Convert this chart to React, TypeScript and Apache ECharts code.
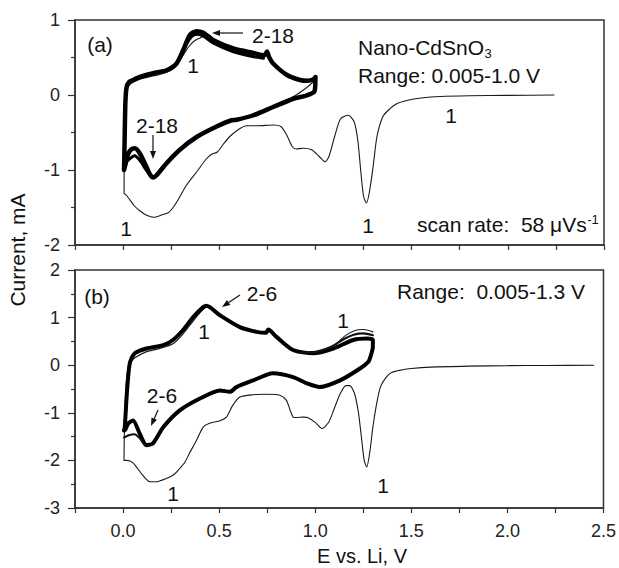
import React, { useEffect, useRef } from "react";
import * as echarts from "echarts";

// ---------------- data (E in V vs Li, I in mA) ----------------
const xTickLabels = ["0.0", "0.5", "1.0", "1.5", "2.0", "2.5"];
const yTicksA = [-2, -1, 0, 1];
const yTicksB = [-3, -2, -1, 0, 1, 2];

// Panel (a): first cycle (thin), from OCV down to 0.005 V, then back to 1.0 V
const cycle1A: number[][] = [
  [2.24, 0.0], [2.0, -0.005], [1.8, -0.01], [1.65, -0.02], [1.55, -0.04], [1.48, -0.07],
  [1.42, -0.12], [1.38, -0.2], [1.35, -0.29], [1.32, -0.55], [1.3, -0.95], [1.28, -1.3],
  [1.265, -1.44], [1.25, -1.35], [1.235, -1.0], [1.22, -0.6], [1.2, -0.35], [1.17, -0.27],
  [1.13, -0.32], [1.1, -0.55], [1.07, -0.82], [1.05, -0.89], [1.02, -0.82], [0.98, -0.73],
  [0.935, -0.71], [0.9, -0.72], [0.88, -0.69], [0.85, -0.53], [0.82, -0.42], [0.78, -0.4],
  [0.7, -0.41], [0.64, -0.41], [0.6, -0.46], [0.556, -0.55], [0.52, -0.66], [0.49, -0.76],
  [0.46, -0.79], [0.43, -0.86], [0.39, -1.0], [0.33, -1.2], [0.29, -1.38], [0.26, -1.5],
  [0.235, -1.57], [0.2, -1.6], [0.16, -1.63], [0.12, -1.6], [0.085, -1.54], [0.056, -1.47],
  [0.03, -1.38], [0.015, -1.33], [0.005, -1.31],
  [0.006, -0.9], [0.008, -0.4], [0.012, -0.05], [0.02, 0.08], [0.035, 0.14], [0.06, 0.18],
  [0.1, 0.22], [0.15, 0.25], [0.2, 0.28], [0.25, 0.33], [0.28, 0.4], [0.31, 0.52],
  [0.34, 0.64], [0.37, 0.72], [0.4, 0.76], [0.43, 0.8], [0.45, 0.8], [0.47, 0.73],
  [0.573, 0.62], [0.677, 0.56], [0.74, 0.53], [0.75, 0.56], [0.76, 0.5], [0.78, 0.42],
  [0.85, 0.27], [0.92, 0.2], [0.97, 0.2], [1.0, 0.2], [0.95, 0.09], [0.9, 0.0], [0.88, -0.03],
];

// Panel (a): cycles 2-18 (thick band)
const band2to18A: number[][] = [
  [0.005, -1.0], [0.008, -0.6], [0.012, -0.1], [0.018, 0.1], [0.03, 0.17], [0.052, 0.2],
  [0.087, 0.24], [0.157, 0.29], [0.226, 0.33], [0.278, 0.42], [0.3125, 0.6], [0.347, 0.8],
  [0.382, 0.85], [0.417, 0.83], [0.47, 0.73], [0.573, 0.62], [0.677, 0.56], [0.735, 0.53],
  [0.748, 0.58], [0.76, 0.5], [0.78, 0.42], [0.85, 0.27], [0.92, 0.2], [0.96, 0.19],
  [0.99, 0.21], [1.0, 0.24],
  [0.995, 0.05], [0.95, -0.01], [0.885, -0.05], [0.78, -0.16], [0.677, -0.27], [0.59, -0.33],
  [0.56, -0.34], [0.486, -0.42], [0.382, -0.56], [0.295, -0.73], [0.226, -0.91], [0.174, -1.07],
  [0.157, -1.1], [0.14, -1.06], [0.122, -0.96], [0.087, -0.78], [0.061, -0.71], [0.04, -0.73],
  [0.026, -0.79], [0.009, -0.96], [0.005, -1.0],
];
// Panel (a): spread of the 2-18 band (inner cycles) near the anodic peak and the low-potential hump
const band2to18PeakA: number[][] = [
  [0.3, 0.5], [0.33, 0.68], [0.36, 0.79], [0.39, 0.81], [0.42, 0.78], [0.47, 0.69],
  [0.57, 0.58], [0.68, 0.51], [0.73, 0.49],
];
const band2to18LowA: number[][] = [
  [0.005, -0.92], [0.03, -0.86], [0.06, -0.81], [0.09, -0.88], [0.12, -1.0], [0.15, -1.1],
];

// Panel (b): first cycle (thin), OCV down to 0.005 V and back to 1.3 V
const cycle1B: number[][] = [
  [2.45, 0.0], [2.2, -0.005], [2.0, -0.01], [1.8, -0.02], [1.6, -0.04], [1.5, -0.07],
  [1.45, -0.1], [1.4, -0.15], [1.37, -0.25], [1.34, -0.45], [1.32, -0.8], [1.3, -1.3],
  [1.285, -1.8], [1.268, -2.14], [1.255, -2.0], [1.24, -1.5], [1.225, -1.0], [1.205, -0.6],
  [1.18, -0.43], [1.16, -0.43], [1.13, -0.6], [1.1, -0.9], [1.07, -1.2], [1.035, -1.33],
  [1.0, -1.2], [0.96, -1.1], [0.94, -1.09], [0.9, -1.1], [0.885, -1.09], [0.87, -0.95],
  [0.85, -0.74], [0.816, -0.63], [0.75, -0.61], [0.677, -0.62], [0.608, -0.67], [0.57, -0.85],
  [0.538, -1.09], [0.5, -1.17], [0.45, -1.22], [0.417, -1.3], [0.382, -1.58], [0.347, -1.84],
  [0.32, -2.05], [0.295, -2.17], [0.27, -2.28], [0.243, -2.35], [0.2, -2.42], [0.174, -2.45],
  [0.139, -2.45], [0.1, -2.3], [0.052, -2.05], [0.02, -2.0], [0.005, -2.0],
  [0.006, -1.6], [0.01, -0.9], [0.018, -0.3], [0.03, 0.0], [0.06, 0.15], [0.12, 0.28],
  [0.2, 0.36], [0.26, 0.45], [0.3, 0.6], [0.35, 0.85], [0.4, 1.1], [0.434, 1.22],
  [0.504, 1.05], [0.608, 0.8], [0.695, 0.7], [0.747, 0.68], [0.755, 0.75], [0.8, 0.59],
  [0.885, 0.32], [0.99, 0.25], [1.094, 0.4], [1.15, 0.6], [1.2, 0.72], [1.25, 0.75], [1.3, 0.7],
];

// Panel (b): cycles 2-6 (thick band)
const band2to6B: number[][] = [
  [0.005, -1.37], [0.009, -1.3], [0.021, -0.53], [0.035, 0.04], [0.061, 0.25], [0.122, 0.35],
  [0.21, 0.42], [0.26, 0.53], [0.3125, 0.74], [0.365, 1.01], [0.417, 1.22], [0.434, 1.25],
  [0.504, 1.05], [0.608, 0.8], [0.695, 0.7], [0.745, 0.68], [0.755, 0.75], [0.8, 0.59],
  [0.885, 0.32], [0.99, 0.25], [1.094, 0.35], [1.198, 0.53], [1.268, 0.56], [1.3, 0.53],
  [1.3, 0.39], [1.285, 0.15], [1.276, 0.07], [1.233, -0.07], [1.129, -0.32], [1.024, -0.46],
  [0.955, -0.38], [0.885, -0.25], [0.78, -0.17], [0.677, -0.32], [0.59, -0.46], [0.556, -0.56],
  [0.504, -0.53], [0.4, -0.7], [0.295, -0.95], [0.21, -1.3], [0.156, -1.64], [0.122, -1.68],
  [0.087, -1.44], [0.052, -1.16], [0.026, -1.23], [0.009, -1.37], [0.005, -1.37],
];
// Panel (b): spread of the 2-6 band at high potential and at the low-potential hump
const band2to6HighB: number[][] = [
  [0.92, 0.27], [1.0, 0.28], [1.08, 0.38], [1.15, 0.55], [1.2, 0.64], [1.25, 0.67], [1.3, 0.63],
];
const band2to6LowB: number[][] = [
  [0.005, -1.52], [0.03, -1.47], [0.06, -1.45], [0.09, -1.55], [0.12, -1.7], [0.15, -1.66],
];

// ---------------- layout / style ----------------
const FONT = "Liberation Sans, Arial, sans-serif";
const AX = "#333";

function measure(text: string, size: number): number {
  const c = document.createElement("canvas").getContext("2d");
  if (!c) return text.length * size * 0.55;
  c.font = `${size}px ${FONT}`;
  return c.measureText(text).width;
}

function label(text: string, x: number, y: number, size = 21, align = "center") {
  return {
    type: "text",
    x,
    y,
    z: 100,
    style: { text, font: `${size}px ${FONT}`, fill: "#111", textAlign: align, textVerticalAlign: "middle" },
  };
}

function arrow(x1: number, y1: number, x2: number, y2: number) {
  const dx = x2 - x1, dy = y2 - y1;
  const len = Math.sqrt(dx * dx + dy * dy);
  const ux = dx / len, uy = dy / len;
  const hl = 8, hw = 3;
  const bx = x2 - ux * hl, by = y2 - uy * hl;
  return [
    { type: "line", z: 100, shape: { x1, y1, x2: bx, y2: by }, style: { stroke: "#111", lineWidth: 1.2 } },
    {
      type: "polygon",
      z: 100,
      shape: { points: [[x2, y2], [bx - uy * hw, by + ux * hw], [bx + uy * hw, by - ux * hw]] },
      style: { fill: "#111" },
    },
  ];
}

export default function App() {
  const ref = useRef<HTMLDivElement>(null);
  useEffect(() => {
    if (!ref.current) return;
    const chart = echarts.init(ref.current, undefined, { renderer: "svg" });

    const xLabelFmt = (v: number) => {
      const r = Math.round(v * 100) / 100;
      const idx = Math.round(r * 2);
      if (Math.abs(r * 2 - idx) < 1e-6 && idx >= 0 && idx < xTickLabels.length) return xTickLabels[idx];
      return "";
    };
    const yFmt = (ticks: number[]) => (v: number) => (ticks.includes(Math.round(v)) ? String(Math.round(v)) : "");

    const xCommon = {
      type: "value",
      min: -0.25,
      max: 2.5,
      interval: 0.25,
      axisLine: { show: true, onZero: false, lineStyle: { color: AX, width: 1.5 } },
      axisTick: { show: true, length: 5, lineStyle: { color: AX, width: 1.2 } },
      splitLine: { show: false },
    };
    const yCommon = {
      type: "value",
      interval: 1,
      axisLine: { show: true, onZero: false, lineStyle: { color: AX, width: 1.5 } },
      axisTick: { show: true, length: 7, lineStyle: { color: AX, width: 1.2 } },
      minorTick: { show: true, splitNumber: 2, length: 4, lineStyle: { color: AX, width: 1.2 } },
      splitLine: { show: false },
      axisLabel: { fontSize: 18, color: "#222", fontFamily: FONT, margin: 15 },
    };

    const nanoMain = "Nano-CdSnO";
    const scanMain = "scan rate:\u00A0 58 \u03BCVs";
    const nanoW = measure(nanoMain, 21);
    const scanW = measure(scanMain, 21);

    const graphics: any[] = [
      // panel (a)
      label("(a)", 100, 44),
      label("2-18", 273, 35),
      ...arrow(243, 33, 212, 33),
      label("1", 193, 65),
      label("2-18", 157, 125),
      ...arrow(153, 135, 153, 159),
      label(nanoMain, 358, 47, 21, "left"),
      label("3", 358 + nanoW + 0.5, 53, 13, "left"),
      label("Range: 0.005-1.0 V", 358, 75, 21, "left"),
      label("1", 451, 115),
      label("1", 368, 225),
      label(scanMain, 417, 224, 21, "left"),
      label("-1", 417 + scanW + 0.5, 219, 13, "left"),
      label("1", 126, 228),
      // panel (b)
      label("(b)", 97, 296),
      label("Range:\u00A0 0.005-1.3 V", 397, 291, 21, "left"),
      label("2-6", 262, 293),
      ...arrow(240, 295, 222, 307),
      label("1", 204, 331),
      label("1", 343, 320),
      label("2-6", 162, 395),
      ...arrow(158, 410, 151, 426),
      label("1", 173, 493),
      label("1", 383, 485),
      // axis titles
      label("E vs. Li, V", 362, 556, 20),
      {
        type: "text",
        x: 17,
        y: 250,
        rotation: Math.PI / 2,
        z: 100,
        style: { text: "Current, mA", font: `21px ${FONT}`, fill: "#111", textAlign: "center", textVerticalAlign: "middle" },
      },
    ];

    const lineSeries = (data: number[][], idx: number, width: number, color: string, z: number) => ({
      type: "line",
      xAxisIndex: idx,
      yAxisIndex: idx,
      data,
      showSymbol: false,
      symbol: "none",
      smooth: 0.25,
      lineStyle: { width, color, join: "round", cap: "round" },
      z,
    });

    chart.setOption({
      animation: false,
      backgroundColor: "#fff",
      grid: [
        { left: 75, top: 20, width: 529, height: 225, show: true, borderColor: AX, borderWidth: 1.5, backgroundColor: "transparent" },
        { left: 75, top: 270, width: 529, height: 238, show: true, borderColor: AX, borderWidth: 1.5, backgroundColor: "transparent" },
      ],
      xAxis: [
        { ...xCommon, gridIndex: 0, axisLabel: { show: false } },
        {
          ...xCommon,
          gridIndex: 1,
          axisLabel: { show: true, formatter: xLabelFmt, fontSize: 18, color: "#222", fontFamily: FONT, margin: 14 },
        },
      ],
      yAxis: [
        { ...yCommon, gridIndex: 0, min: -2, max: 1, axisLabel: { ...yCommon.axisLabel, formatter: yFmt(yTicksA) } },
        { ...yCommon, gridIndex: 1, min: -3, max: 2, axisLabel: { ...yCommon.axisLabel, formatter: yFmt(yTicksB) } },
      ],
      series: [
        lineSeries(cycle1A, 0, 1.1, "#1a1a1a", 2),
        lineSeries(band2to18A, 0, 4.5, "#000", 3),
        lineSeries(band2to18PeakA, 0, 3, "#000", 3),
        lineSeries(band2to18LowA, 0, 3, "#000", 3),
        lineSeries(cycle1B, 1, 1.1, "#1a1a1a", 2),
        lineSeries(band2to6B, 1, 4, "#000", 3),
        lineSeries(band2to6HighB, 1, 2.2, "#111", 3),
        lineSeries(band2to6LowB, 1, 2, "#111", 3),
      ],
      graphic: graphics,
    });

    return () => chart.dispose();
  }, []);

  return (
    <div
      ref={ref}
      style={{ position: "absolute", left: 0, top: 0, width: 619, height: 568, background: "#fff" }}
    />
  );
}
